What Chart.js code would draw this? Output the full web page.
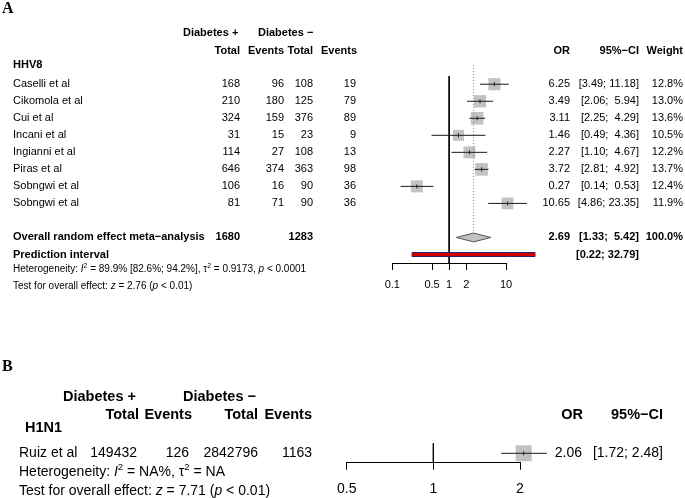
<!DOCTYPE html>
<html>
<head>
<meta charset="utf-8">
<script src="https://cdn.jsdelivr.net/npm/chart.js@4.4.0/dist/chart.umd.min.js"></script>
<style>
  html, body { margin: 0; padding: 0; background: #fff; }
  #wrap { position: relative; width: 685px; height: 498px; overflow: hidden; background: #fff; }
  canvas { position: absolute; left: 0; }
  #cA { top: 0; }
  #cB { top: 300px; }
</style>
</head>
<body>
<div id="wrap">
  <canvas id="cA" width="685" height="300"></canvas>
  <canvas id="cB" width="685" height="198"></canvas>
</div>
<script>
// ---------------- DATA: panel A (HHV8) ----------------
const studiesA   = ['Caselli et al','Cikomola et al','Cui et al','Incani et al','Ingianni et al','Piras et al','Sobngwi et al','Sobngwi et al'];
const totalPosA  = [168, 210, 324, 31, 114, 646, 106, 81];
const eventsPosA = [96, 180, 159, 15, 27, 374, 16, 71];
const totalNegA  = [108, 125, 376, 23, 108, 363, 90, 90];
const eventsNegA = [19, 79, 89, 9, 13, 98, 36, 36];
const orA        = [6.25, 3.49, 3.11, 1.46, 2.27, 3.72, 0.27, 10.65];
const loA        = [3.49, 2.06, 2.25, 0.49, 1.10, 2.81, 0.14, 4.86];
const hiA        = [11.18, 5.94, 4.29, 4.36, 4.67, 4.92, 0.53, 23.35];
const weightA    = [12.8, 13.0, 13.6, 10.5, 12.2, 13.7, 12.4, 11.9];
const overallA   = [2.69, 1.33, 5.42];       // OR, lower, upper
const overallTotalsA = [1680, 1283];          // total diabetes+, total diabetes-
const overallWeightA = 100.0;
const predA      = [0.22, 32.79];
const hetA       = ['89.9%', '[82.6%; 94.2%]', '0.9173', '< 0.0001']; // I2, CI, tau2, p
const testA      = ['2.76', '< 0.01'];        // z, p
const ticksA     = [0.1, 0.5, 1, 2, 10];
const tickLabelsA = ['0.1', '0.5', '1', '2', '10'];

// ---------------- DATA: panel B (H1N1) ----------------
const studiesB   = ['Ruiz et al'];
const totalPosB  = [149432];
const eventsPosB = [126];
const totalNegB  = [2842796];
const eventsNegB = [1163];
const orB        = [2.06];
const loB        = [1.72];
const hiB        = [2.48];
const hetB       = ['NA%', 'NA'];             // I2, tau2
const testB      = ['7.71', '< 0.01'];        // z, p
const ticksB     = [0.5, 1, 2];
const tickLabelsB = ['0.5', '1', '2'];

// ---------------- helpers ----------------
const SANS = '"Liberation Sans", Arial, Helvetica, sans-serif';
const SERIF = '"Liberation Serif", "Times New Roman", serif';

function drawText(ctx, s, x, y, o) {
  o = o || {};
  ctx.save();
  ctx.font = (o.italic ? 'italic ' : '') + (o.bold ? 'bold ' : '') + (o.size || 11) + 'px ' + (o.family || SANS);
  ctx.fillStyle = o.color || '#000';
  ctx.textAlign = o.align || 'left';
  ctx.textBaseline = 'middle';
  ctx.fillText(s, x, y);
  ctx.restore();
}
function drawRich(ctx, segs, x, y, size) {
  ctx.save();
  ctx.fillStyle = '#000';
  ctx.textAlign = 'left';
  ctx.textBaseline = 'middle';
  let cx = x;
  for (const sg of segs) {
    const fs = sg.sup ? size * 0.68 : size;
    ctx.font = (sg.it ? 'italic ' : '') + fs + 'px ' + SANS;
    ctx.fillText(sg.t, cx, sg.sup ? y - size * 0.38 : y);
    cx += ctx.measureText(sg.t).width;
  }
  ctx.restore();
}
const f2 = v => v.toFixed(2);
function ciStrings(los, his) {
  const wl = Math.max(...los.map(v => f2(v).length));
  const wh = Math.max(...his.map(v => f2(v).length));
  return los.map((l, i) => '[' + f2(l).padStart(wl, ' ') + '; ' + f2(his[i]).padStart(wh, ' ') + ']');
}

// ---------------- Panel A chart ----------------
const rowsA = studiesA.map((_, i) => i + 1);
const overallRowA = 10, predRowA = 11;
const sideMaxA = 12.6;
const radiiA = weightA.map(w => sideMaxA * Math.sqrt(w / Math.max(...weightA)) / Math.SQRT2);

const dsA = [];
// squares
dsA.push({ data: orA.map((v, i) => ({ x: v, y: rowsA[i] })), pointStyle: 'rect', pointRadius: radiiA,
  backgroundColor: '#c2c2c2', borderWidth: 0, showLine: false, order: 5, clip: false });
// CI lines
orA.forEach((v, i) => {
  dsA.push({ data: [{ x: loA[i], y: rowsA[i] }, { x: hiA[i], y: rowsA[i] }], showLine: true, pointRadius: 0,
    borderColor: '#1a1a1a', borderWidth: 1, order: 3, clip: false });
});
// center ticks
dsA.push({ data: orA.map((v, i) => ({ x: v, y: rowsA[i] })), pointStyle: 'line', rotation: 90, pointRadius: 2,
  borderColor: '#1a1a1a', borderWidth: 1, showLine: false, order: 1, clip: false });
// reference line at 1
dsA.push({ data: [{ x: 1, y: 0.52 }, { x: 1, y: 11.5 }], showLine: true, pointRadius: 0,
  borderColor: '#000', borderWidth: 1, order: 4, clip: false });
// dotted overall line
dsA.push({ data: [{ x: overallA[0], y: -0.13 }, { x: overallA[0], y: overallRowA - 0.26 }], showLine: true, pointRadius: 0,
  borderColor: '#8a8a8a', borderWidth: 1, borderDash: [1, 2], order: 4, clip: false });
// diamond
const dh = 0.26;
dsA.push({ data: [
    { x: overallA[1], y: overallRowA }, { x: overallA[0], y: overallRowA - dh },
    { x: overallA[2], y: overallRowA }, { x: overallA[0], y: overallRowA + dh },
    { x: overallA[1], y: overallRowA } ],
  showLine: true, pointRadius: 0, borderColor: '#555', borderWidth: 1, backgroundColor: '#c2c2c2',
  fill: 'shape', tension: 0, order: 2, clip: false });
// prediction interval
dsA.push({ data: [{ x: predA[0], y: predRowA }, { x: predA[1], y: predRowA }], showLine: true, pointRadius: 0,
  borderColor: '#26266a', borderWidth: 5, borderCapStyle: 'butt', order: 2, clip: false });
dsA.push({ data: [{ x: predA[0], y: predRowA }, { x: predA[1], y: predRowA }], showLine: true, pointRadius: 0,
  borderColor: '#d40000', borderWidth: 3, borderCapStyle: 'butt', order: 1, clip: false });

const textA = {
  id: 'textA',
  afterDraw(chart) {
    const ctx = chart.ctx, yS = chart.scales.y;
    drawText(ctx, 'A', 2, 8.5, { size: 16, bold: true, family: SERIF });
    // headers
    drawText(ctx, 'Diabetes +', 183, 33, { bold: true });
    drawText(ctx, 'Diabetes \u2212', 258, 33, { bold: true });
    drawText(ctx, 'Total', 240, 50.5, { bold: true, align: 'right' });
    drawText(ctx, 'Events', 284, 50.5, { bold: true, align: 'right' });
    drawText(ctx, 'Total', 313, 50.5, { bold: true, align: 'right' });
    drawText(ctx, 'Events', 357, 50.5, { bold: true, align: 'right' });
    drawText(ctx, 'OR', 570, 50.5, { bold: true, align: 'right' });
    drawText(ctx, '95%\u2212CI', 639, 50.5, { bold: true, align: 'right' });
    drawText(ctx, 'Weight', 683, 50.5, { bold: true, align: 'right' });
    drawText(ctx, 'HHV8', 13, 64.5, { bold: true });
    const cis = ciStrings(loA.concat([overallA[1], predA[0]]), hiA.concat([overallA[2], predA[1]]));
    studiesA.forEach((s, i) => {
      const y = yS.getPixelForValue(rowsA[i]);
      drawText(ctx, s, 13, y);
      drawText(ctx, String(totalPosA[i]), 240, y, { align: 'right' });
      drawText(ctx, String(eventsPosA[i]), 284, y, { align: 'right' });
      drawText(ctx, String(totalNegA[i]), 313, y, { align: 'right' });
      drawText(ctx, String(eventsNegA[i]), 356, y, { align: 'right' });
      drawText(ctx, f2(orA[i]), 570, y, { align: 'right' });
      drawText(ctx, cis[i], 639, y, { align: 'right' });
      drawText(ctx, weightA[i].toFixed(1) + '%', 683, y, { align: 'right' });
    });
    let y = yS.getPixelForValue(overallRowA);
    drawText(ctx, 'Overall random effect meta\u2212analysis', 13, y, { bold: true });
    drawText(ctx, String(overallTotalsA[0]), 240, y, { bold: true, align: 'right' });
    drawText(ctx, String(overallTotalsA[1]), 313, y, { bold: true, align: 'right' });
    drawText(ctx, f2(overallA[0]), 570, y, { bold: true, align: 'right' });
    drawText(ctx, cis[studiesA.length], 639, y, { bold: true, align: 'right' });
    drawText(ctx, overallWeightA.toFixed(1) + '%', 683, y, { bold: true, align: 'right' });
    y = yS.getPixelForValue(predRowA);
    drawText(ctx, 'Prediction interval', 13, y, { bold: true });
    drawText(ctx, cis[studiesA.length + 1], 639, y, { bold: true, align: 'right' });
    drawRich(ctx, [
      { t: 'Heterogeneity: ' }, { t: 'I', it: true }, { t: '2', sup: true },
      { t: ' = ' + hetA[0] + ' ' + hetA[1] + ', \u03c4' }, { t: '2', sup: true },
      { t: ' = ' + hetA[2] + ', ' }, { t: 'p', it: true }, { t: ' ' + hetA[3] } ], 13, 269.5, 10);
    drawRich(ctx, [
      { t: 'Test for overall effect: ' }, { t: 'z', it: true }, { t: ' = ' + testA[0] + ' (' },
      { t: 'p', it: true }, { t: ' ' + testA[1] + ')' } ], 13, 286, 10);
  }
};

new Chart(document.getElementById('cA'), {
  type: 'scatter',
  data: { datasets: dsA },
  options: {
    responsive: false, animation: false, devicePixelRatio: 1,
    events: [],
    layout: { autoPadding: false, padding: { left: 392.3, right: 179, top: 67.2, bottom: 7 } },
    plugins: { legend: { display: false }, tooltip: { enabled: false } },
    scales: {
      x: {
        type: 'logarithmic', min: 0.1, max: 10, position: 'bottom',
        afterBuildTicks: s => { s.ticks = ticksA.map(v => ({ value: v })); },
        afterFit: s => { s.height = 30; },
        ticks: { callback: (v, i) => tickLabelsA[i], font: { size: 11, family: SANS }, color: '#000',
                 padding: 8, maxRotation: 0, autoSkip: false },
        grid: { drawOnChartArea: false, drawTicks: true, tickLength: 7, color: '#000', lineWidth: 1 },
        border: { display: true, color: '#000', width: 1 }
      },
      y: { type: 'linear', min: 0, max: 11.5, reverse: true, display: false }
    }
  },
  plugins: [textA]
});

// ---------------- Panel B chart ----------------
const rowsB = studiesB.map((_, i) => i + 1);
const dsB = [];
dsB.push({ data: orB.map((v, i) => ({ x: v, y: rowsB[i] })), pointStyle: 'rect', pointRadius: 11.3,
  backgroundColor: '#c2c2c2', borderWidth: 0, showLine: false, order: 5, clip: false });
orB.forEach((v, i) => {
  dsB.push({ data: [{ x: loB[i], y: rowsB[i] }, { x: hiB[i], y: rowsB[i] }], showLine: true, pointRadius: 0,
    borderColor: '#1a1a1a', borderWidth: 1, order: 3, clip: false });
});
dsB.push({ data: orB.map((v, i) => ({ x: v, y: rowsB[i] })), pointStyle: 'line', rotation: 90, pointRadius: 2,
  borderColor: '#1a1a1a', borderWidth: 1, showLine: false, order: 1, clip: false });
dsB.push({ data: [{ x: 1, y: 0.375 }, { x: 1, y: 1.5875 }], showLine: true, pointRadius: 0,
  borderColor: '#000', borderWidth: 1, order: 4, clip: false });

const textB = {
  id: 'textB',
  afterDraw(chart) {
    const ctx = chart.ctx, yS = chart.scales.y;
    drawText(ctx, 'B', 2, 67, { size: 16, bold: true, family: SERIF });
    drawText(ctx, 'Diabetes +', 63, 97, { bold: true, size: 14.5 });
    drawText(ctx, 'Diabetes \u2212', 183, 97, { bold: true, size: 14.5 });
    drawText(ctx, 'Total', 139, 115, { bold: true, size: 14.5, align: 'right' });
    drawText(ctx, 'Events', 192, 115, { bold: true, size: 14.5, align: 'right' });
    drawText(ctx, 'Total', 258, 115, { bold: true, size: 14.5, align: 'right' });
    drawText(ctx, 'Events', 312, 115, { bold: true, size: 14.5, align: 'right' });
    drawText(ctx, 'OR', 583, 115, { bold: true, size: 14.5, align: 'right' });
    drawText(ctx, '95%\u2212CI', 663, 115, { bold: true, size: 14.5, align: 'right' });
    drawText(ctx, 'H1N1', 25, 128, { bold: true, size: 14.5 });
    const cis = ciStrings(loB, hiB);
    studiesB.forEach((s, i) => {
      const y = yS.getPixelForValue(rowsB[i]);
      drawText(ctx, s, 19, y, { size: 14 });
      drawText(ctx, String(totalPosB[i]), 137, y, { size: 14, align: 'right' });
      drawText(ctx, String(eventsPosB[i]), 189, y, { size: 14, align: 'right' });
      drawText(ctx, String(totalNegB[i]), 258, y, { size: 14, align: 'right' });
      drawText(ctx, String(eventsNegB[i]), 312, y, { size: 14, align: 'right' });
      drawText(ctx, f2(orB[i]), 582, y, { size: 14, align: 'right' });
      drawText(ctx, cis[i], 663, y, { size: 14, align: 'right' });
    });
    drawRich(ctx, [
      { t: 'Heterogeneity: ' }, { t: 'I', it: true }, { t: '2', sup: true },
      { t: ' = ' + hetB[0] + ', \u03c4' }, { t: '2', sup: true }, { t: ' = ' + hetB[1] } ], 19, 172.3, 14);
    drawRich(ctx, [
      { t: 'Test for overall effect: ' }, { t: 'z', it: true }, { t: ' = ' + testB[0] + ' (' },
      { t: 'p', it: true }, { t: ' ' + testB[1] + ')' } ], 19, 190.7, 14);
  }
};

new Chart(document.getElementById('cB'), {
  type: 'scatter',
  data: { datasets: dsB },
  options: {
    responsive: false, animation: false, devicePixelRatio: 1,
    events: [],
    layout: { autoPadding: false, padding: { left: 346.7, right: 165, top: 137.3, bottom: 0 } },
    plugins: { legend: { display: false }, tooltip: { enabled: false } },
    scales: {
      x: {
        type: 'logarithmic', min: 0.5, max: 2, position: 'bottom',
        afterBuildTicks: s => { s.ticks = ticksB.map(v => ({ value: v })); },
        afterFit: s => { s.height = 35.3; },
        ticks: { callback: (v, i) => tickLabelsB[i], font: { size: 14, family: SANS }, color: '#000',
                 padding: 11, maxRotation: 0, autoSkip: false },
        grid: { drawOnChartArea: false, drawTicks: true, tickLength: 7, color: '#000', lineWidth: 1 },
        border: { display: true, color: '#000', width: 1 }
      },
      y: { type: 'linear', min: 0, max: 1.5875, reverse: true, display: false }
    }
  },
  plugins: [textB]
});
</script>
</body>
</html>
